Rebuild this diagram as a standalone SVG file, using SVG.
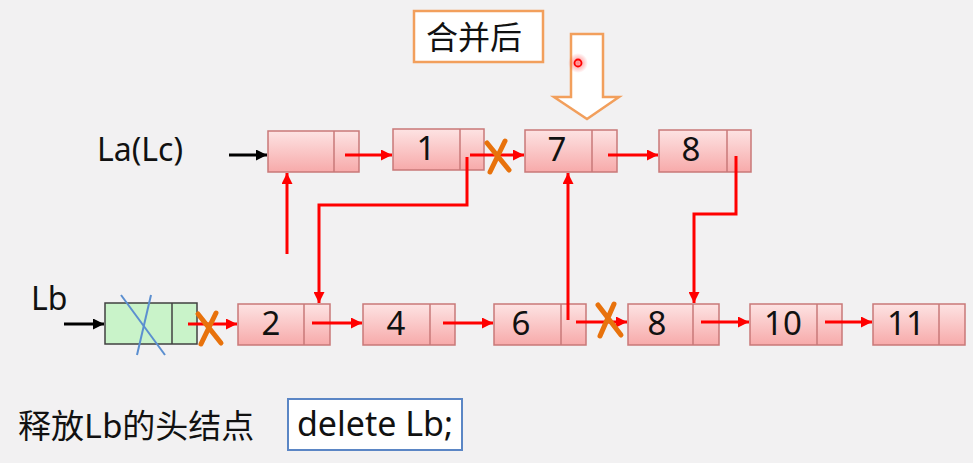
<svg xmlns="http://www.w3.org/2000/svg" width="973" height="463" viewBox="0 0 973 463">
<defs>
<linearGradient id="pink" x1="0" y1="0" x2="0" y2="1">
<stop offset="0" stop-color="#fde3e3"/>
<stop offset="1" stop-color="#f7aaaa"/>
</linearGradient>
<radialGradient id="glow">
<stop offset="0" stop-color="#ff3030" stop-opacity="0.6"/>
<stop offset="1" stop-color="#ff3030" stop-opacity="0"/>
</radialGradient>
<marker id="ar" viewBox="0 0 10 10" refX="10" refY="5" markerWidth="11" markerHeight="11" markerUnits="userSpaceOnUse" orient="auto">
<path d="M0,0 L10,5 L0,10 Z" fill="#ff0000"/>
</marker>
<marker id="ab" viewBox="0 0 10 10" refX="10" refY="5" markerWidth="11" markerHeight="11" markerUnits="userSpaceOnUse" orient="auto">
<path d="M0,0 L10,5 L0,10 Z" fill="#000"/>
</marker>
</defs>
<style>
.nd{fill:url(#pink);stroke:#c97878;stroke-width:1.5}
.gn{fill:#c9f3c9;stroke:#404040;stroke-width:1.5}
.t{font-family:"Noto Sans","Open Sans",sans-serif;font-size:33px;fill:#111;text-anchor:middle}
.lb{font-family:"Noto Sans","Noto Sans CJK SC",sans-serif;font-size:32px;fill:#111}
.cj{font-family:"Noto Sans CJK SC","Noto Sans",sans-serif;font-size:33px;fill:#111}
.r{stroke:#ff0000;stroke-width:3;fill:none}
.k{stroke:#000;stroke-width:3;fill:none}
.x{stroke:#e8720c;stroke-width:5;stroke-linecap:round;fill:none}
.bx{stroke:#5b8fd0;stroke-width:2;fill:none}
</style>
<rect width="973" height="463" fill="#f2f1f2"/>

<g id="title">
<rect x="414" y="11" width="129" height="51" fill="#fff" stroke="#f29f5c" stroke-width="2.5"/>
<text x="474" y="49" class="cj" text-anchor="middle" style="font-size:32px">合并后</text>
</g>
<g id="downarrow">
<path d="M571,34 H603 V97 H619 L587,119 L554,97 H571 Z" fill="#fff" stroke="#f29f5c" stroke-width="2.5"/>
</g>
<g id="pointer">
<circle cx="578" cy="63" r="10" fill="url(#glow)"/>
<circle cx="578" cy="63" r="3.5" fill="none" stroke="#ff0000" stroke-width="1.8"/>
</g>

<g id="label-la"><text x="97" y="161" class="lb">La(Lc)</text></g>
<g id="label-lb"><text x="31" y="310" class="lb">Lb</text></g>

<g id="node-head"><rect x="268" y="131" width="91" height="41" class="nd"/><line x1="334" y1="131" x2="334" y2="172" class="nd"/></g>
<g id="node-1"><rect x="393" y="129" width="91" height="41" class="nd"/><line x1="460" y1="129" x2="460" y2="170" class="nd"/><text x="426" y="160" class="t">1</text></g>
<g id="node-7"><rect x="525" y="130" width="92" height="42" class="nd"/><line x1="592" y1="130" x2="592" y2="172" class="nd"/><text x="557" y="161" class="t">7</text></g>
<g id="node-8a"><rect x="659" y="130" width="92" height="42" class="nd"/><line x1="727" y1="130" x2="727" y2="172" class="nd"/><text x="691" y="161" class="t">8</text></g>

<g id="node-lbhead"><rect x="105" y="303" width="92" height="41" class="gn"/><line x1="172" y1="303" x2="172" y2="344" class="gn"/>
<line x1="121" y1="295" x2="165" y2="355" class="bx"/><line x1="151" y1="295" x2="137" y2="355" class="bx"/></g>
<g id="node-2"><rect x="238" y="304" width="92" height="41" class="nd"/><line x1="304" y1="304" x2="304" y2="345" class="nd"/><text x="271" y="335" class="t">2</text></g>
<g id="node-4"><rect x="363" y="304" width="92" height="41" class="nd"/><line x1="430" y1="304" x2="430" y2="345" class="nd"/><text x="396" y="335" class="t">4</text></g>
<g id="node-6"><rect x="494" y="304" width="92" height="41" class="nd"/><line x1="561" y1="304" x2="561" y2="345" class="nd"/><text x="521" y="335" class="t">6</text></g>
<g id="node-8b"><rect x="628" y="304" width="91" height="41" class="nd"/><line x1="693" y1="304" x2="693" y2="345" class="nd"/><text x="657" y="335" class="t">8</text></g>
<g id="node-10"><rect x="750" y="304" width="92" height="41" class="nd"/><line x1="817" y1="304" x2="817" y2="345" class="nd"/><text x="783" y="335" class="t">10</text></g>
<g id="node-11"><rect x="873" y="304" width="92" height="41" class="nd"/><line x1="939" y1="304" x2="939" y2="345" class="nd"/><text x="906" y="335" class="t">11</text></g>

<g id="connectors">
<line x1="229" y1="155" x2="267" y2="155" class="k" marker-end="url(#ab)"/>
<line x1="64" y1="324" x2="104" y2="324" class="k" marker-end="url(#ab)"/>
<line x1="345" y1="155" x2="392" y2="155" class="r" marker-end="url(#ar)"/>
<line x1="470" y1="155" x2="524" y2="155" class="r" marker-end="url(#ar)"/>
<line x1="608" y1="155" x2="658" y2="155" class="r" marker-end="url(#ar)"/>
<polyline points="467,157 467,205 319,205 319,303" class="r" marker-end="url(#ar)"/>
<line x1="287" y1="254" x2="287" y2="173" class="r" marker-end="url(#ar)"/>
<line x1="188" y1="324" x2="237" y2="324" class="r" marker-end="url(#ar)"/>
<line x1="312" y1="323" x2="362" y2="323" class="r" marker-end="url(#ar)"/>
<line x1="443" y1="323" x2="493" y2="323" class="r" marker-end="url(#ar)"/>
<line x1="568" y1="320" x2="568" y2="173" class="r" marker-end="url(#ar)"/>
<line x1="576" y1="322" x2="627" y2="322" class="r" marker-end="url(#ar)"/>
<polyline points="736,156 736,214 694,214 694,303" class="r" marker-end="url(#ar)"/>
<line x1="701" y1="322" x2="749" y2="322" class="r" marker-end="url(#ar)"/>
<line x1="825" y1="322" x2="872" y2="322" class="r" marker-end="url(#ar)"/>
</g>

<g id="cuts">
<path d="M487,143 L509,170 M505,141 L490,172" class="x"/>
<path d="M198,314 L221,343 M216,313 L201,344" class="x"/>
<path d="M598,305 L621,335 M614,304 L600,336" class="x"/>
</g>

<g id="footer">
<text x="18" y="438" class="cj">释放Lb的头结点</text>
<rect x="288" y="399" width="174" height="51" fill="#fff" stroke="#5b86c5" stroke-width="2"/>
<text x="375" y="436" class="lb" text-anchor="middle" style="font-size:34px">delete Lb;</text>
</g>
</svg>
